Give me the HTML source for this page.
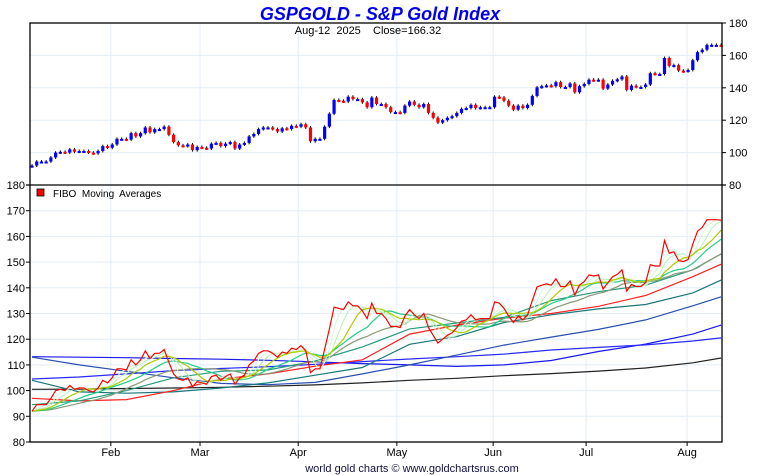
<!DOCTYPE html>
<html><head><meta charset="utf-8"><style>
body{margin:0;background:#fff;width:760px;height:475px;overflow:hidden}
svg{display:block;font-family:"Liberation Sans",sans-serif}
text{white-space:pre}
</style></head><body>
<svg id="c" width="760" height="475"></svg>
<script>
const closes=[92,94.5,94.5,94.5,97,100,100.5,100,102,100.5,101,101,100,99.5,101,104,103,
105,108.5,108.5,108,112,110,112,115.5,112.5,114.5,114.5,116,111,106.5,104.5,104,105,101.5,103.5,
103,102.5,105.5,106,104,105.5,106.5,102.5,105,106,110,111.5,114.5,115.5,115.5,114.5,113,115,114.5,116.5,116,
117.5,115.5,107,108.5,108.5,116,124,132.5,132,131.5,134.5,133,133,131,128,134,130,130,128,125,125,
124.5,129,131.5,129.5,128,130,124.5,121.5,118.5,120,121.5,122.5,124.5,127,127.5,129.5,127.5,128,128,128,
134.5,134,132,129,126.5,129,127.5,129.5,135,140.3,141,141.5,141,143.5,140.5,140.5,142.7,137.2,141,142.4,
145,144.6,145,139.5,142,144.3,145.2,147,138.7,141.3,140.5,140.5,142,149,148.5,148.5,158.4,153.5,154,150.6,150.2,151,
157,162,163.5,166.5,166.5,166.5,166.3];
const monthLabels=["Feb","Mar","Apr","May","Jun","Jul","Aug"];
const monthIdx=[16.7,35.6,56.4,77.3,97.7,117.4,138.8];
const topTicks=[180,160,140,120,100,80];
const botTicks=[180,170,160,150,140,130,120,110,100,90,80];
const longIdx=[0,10,20,30,40,50,60,70,80,90,100,110,120,130,140,146];
const ma34=[94.5,96,100,105,107.5,108,111.5,117,124,126.3,128.5,135,138.5,141,147,153.2];
const ma55=[97,96,96.5,100,104.5,106.5,109.5,112,122,125.5,128.2,130,132.8,137,144.3,149.2];
const ma89=[104,99.5,99,99.5,101,103,106,109,118,121,126.5,129.5,131.8,133.5,138,143];
const ma144=[113,110,107.5,105,102.8,102.3,103.2,106.5,110,113.8,117.7,120.8,123.8,127.5,133,136.5];
const ma200=[104.5,105.3,106.5,107.8,108.6,109.3,110.2,111.3,112.3,113.2,114.2,115.8,116.8,117.8,119.3,120.5];
const ma233=[113.2,113,112.8,112.5,112.2,111.8,111.2,110.5,110,109.4,110,111.7,115.2,118.1,122,125.5];
const ma377=[100.5,100.6,100.8,101,101.3,101.7,102.2,103,104,104.8,105.8,106.6,107.6,108.8,110.8,112.7];

const NS="http://www.w3.org/2000/svg",svg=document.getElementById('c');
function mk(t,a,p){const e=document.createElementNS(NS,t);for(const k in a)e.setAttribute(k,a[k]);(p||svg).appendChild(e);return e;}
const L=30,R=722,TT=23,TB=185,BB=442;
const xs=i=>32+i*4.72;
const yT=v=>TT+(180-v)*(TB-TT)/100;
const yB=v=>TB+(180-v)*(BB-TB)/100;
monthIdx.forEach(m=>{const g=mk('line',{x1:xs(m),x2:xs(m),y1:TT,y2:BB,stroke:'#e3eef7','stroke-width':1});});
topTicks.forEach(v=>{const g=mk('line',{x1:L,x2:R,y1:yT(v),y2:yT(v),stroke:'#e3eef7'});
 const t=mk('text',{x:R+7,y:yT(v)+4,'font-size':11});t.textContent=v;
 mk('line',{x1:R,x2:R+4,y1:yT(v),y2:yT(v),stroke:'#000'});});
botTicks.forEach(v=>{const g=mk('line',{x1:L,x2:R,y1:yB(v),y2:yB(v),stroke:'#e3eef7'});
 const t=mk('text',{x:L-5,y:yB(v)+4,'font-size':11,'text-anchor':'end'});t.textContent=v;
 mk('line',{x1:L-4,x2:L,y1:yB(v),y2:yB(v),stroke:'#000'});});
monthLabels.forEach((m,k)=>{const t=mk('text',{x:xs(monthIdx[k]),y:456,'font-size':11,'text-anchor':'middle'});t.textContent=m;
 mk('line',{x1:xs(monthIdx[k]),x2:xs(monthIdx[k]),y1:BB,y2:BB+4,stroke:'#000'});});
closes.forEach((c,i)=>{const o=i?closes[i-1]:c-0.5;const up=c>=o;const x=xs(i);
 const hi=Math.max(o,c)+0.9,lo=Math.min(o,c)-0.9;
 const w=mk('line',{x1:x,x2:x,y1:yT(hi),y2:yT(lo),stroke:'#000','stroke-width':1});
 const y1=yT(Math.max(o,c)),h=Math.max(2,yT(Math.min(o,c))-y1);
 const b=mk('rect',{x:x-1.6,y:y1,width:3.2,height:h,fill:up?'#0000ff':'#ff0000'});});
function sma(n){return closes.map((_,i)=>{let s=0;for(let k=0;k<n;k++){s+=closes[Math.max(0,i-k)];}return s/n;});}
function line(vals,idx,col,w,name){const p=vals.map((v,k)=>xs(idx?idx[k]:k).toFixed(1)+','+yB(v).toFixed(1)).join(' ');
 const e=mk('polyline',{points:p,fill:'none',stroke:col,'stroke-width':w});}
line(ma377,longIdx,'#222',1.2,'ma-377-line');
line(ma233,longIdx,'#1a1aee',1.2,'ma-233-line');
line(ma200,longIdx,'#2a2aff',1.2,'ma-200-line');
line(ma144,longIdx,'#2850b0',1.2,'ma-144-line');
line(ma89,longIdx,'#17787a',1.2,'ma-89-line');
line(ma55,longIdx,'#ff2020',1.2,'ma-55-line');
line(ma34,longIdx,'#269a7e',1.2,'ma-34-line');
line(sma(21),null,'#889977',1.2,'ma-21-line');
line(sma(13),null,'#22cc88',1.2,'ma-13-line');
line(sma(5),null,'#b8f0b8',1,'ma-5-line');
line(sma(3),null,'#d4f7d4',1,'ma-3-line');
line(sma(8),null,'#aacc00',1.2,'ma-8-line');
line(closes,null,'#ff0000',1.2,'price-line');
mk('rect',{x:L,y:TT,width:R-L,height:BB-TT,fill:'none',stroke:'#000','stroke-width':1.3});
mk('line',{x1:L-4,x2:R+4,y1:TB,y2:TB,stroke:'#000','stroke-width':1.3});
function txt(s,a,name){const t=mk('text',a);t.textContent=s;return t;}
txt('GSPGOLD - S&P Gold Index',{x:380,y:20,'font-size':18,'font-weight':'bold','font-style':'italic',fill:'#0000ee','text-anchor':'middle'},'chart-title');
txt('Aug-12  2025    Close=166.32',{x:368,y:34,'font-size':11,'text-anchor':'middle'},'chart-subtitle');
const lg=mk('rect',{x:37,y:189,width:7,height:7,fill:'#ff0000',stroke:'#000','stroke-width':0.8});
txt('FIBO  Moving  Averages',{x:53,y:197,'font-size':10},'legend-label');
txt('world gold charts © www.goldchartsrus.com',{x:412,y:472,'font-size':11,'text-anchor':'middle',fill:'#101040'},'footer-credit');
</script>
</body></html>
